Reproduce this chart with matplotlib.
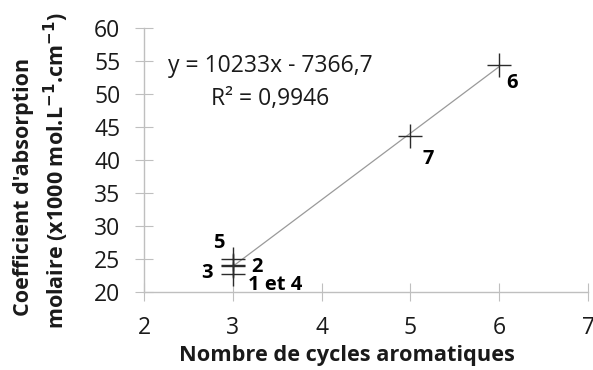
import matplotlib
matplotlib.use("Agg")
import matplotlib.pyplot as plt
import numpy as np

plt.rcParams['font.family'] = ['Open Sans', 'DejaVu Sans']

# Data
x_vals = [3, 3, 3, 3, 5, 6]
y_vals = [22.7, 24.1, 23.9, 25.0, 43.6, 54.45]
point_labels = ["1 et 4", "2", "3", "5", "7", "6"]
label_offsets = [(42, -11), (24, -2), (-26, -7), (-14, 16), (18, -23), (13, -18)]
x_ticks = [2, 3, 4, 5, 6, 7]
y_ticks = [20, 25, 30, 35, 40, 45, 50, 55, 60]
equation = "y = 10233x - 7366,7"
r2_text = "R² = 0,9946"

fig = plt.figure(figsize=(5.93, 3.70), dpi=100)
ax = fig.add_axes([144/593, 78/370, 444/593, 264/370])

# trend line over data range
coef = np.polyfit(x_vals, y_vals, 1)
xt = np.array([min(x_vals), max(x_vals)])
ax.plot(xt, np.polyval(coef, xt), color='#9a9a9a', lw=0.9, zorder=2)

ax.plot(x_vals, y_vals, linestyle='none', marker='+', markersize=17,
        markeredgewidth=1.0, color='#2b2b2b', zorder=3)

for xv, yv, lab, off in zip(x_vals, y_vals, point_labels, label_offsets):
    ax.annotate(lab, (xv, yv), xytext=off, textcoords='offset pixels',
                ha='center', va='center', fontsize=14.5, fontweight='bold',
                color='#000000')

ax.set_xlim(2, 7)
ax.set_ylim(20, 60)
ax.set_xticks(x_ticks)
ax.set_yticks(y_ticks)
for s in ['top', 'right']:
    ax.spines[s].set_visible(False)
for s in ['left', 'bottom']:
    ax.spines[s].set_color('#bfbfbf')
    ax.spines[s].set_linewidth(1.0)
ax.tick_params(direction='inout', length=13, width=0.8, color='#bfbfbf',
               labelsize=16.5, labelcolor='#1a1a1a', pad=10.5)
for t in ax.get_xticklabels() + ax.get_yticklabels():
    t.set_clip_on(False)

fig.text(270/593, 1 - 66/370, equation, ha='center', va='center', fontsize=16.5, color='#1a1a1a')
fig.text(270/593, 1 - 99/370, r2_text, ha='center', va='center', fontsize=16.5, color='#1a1a1a')

fig.text(347/593, 1 - 356/370, "Nombre de cycles aromatiques", ha='center', va='center',
         fontsize=15.7, fontweight='bold', color='#1a1a1a')
fig.text(24/593, 1 - 187/370, "Coefficient d'absorption", ha='center', va='center',
         rotation=90, fontsize=15.5, fontweight='bold', color='#1a1a1a')
fig.text(56/593, 1 - 171/370, "molaire (x1000 mol.L$^{\\mathbf{-1}}$.cm$^{\\mathbf{-1}}$)", ha='center', va='center',
         rotation=90, fontsize=15.5, fontweight='bold', color='#1a1a1a')

fig.savefig("out.png", dpi=100)
